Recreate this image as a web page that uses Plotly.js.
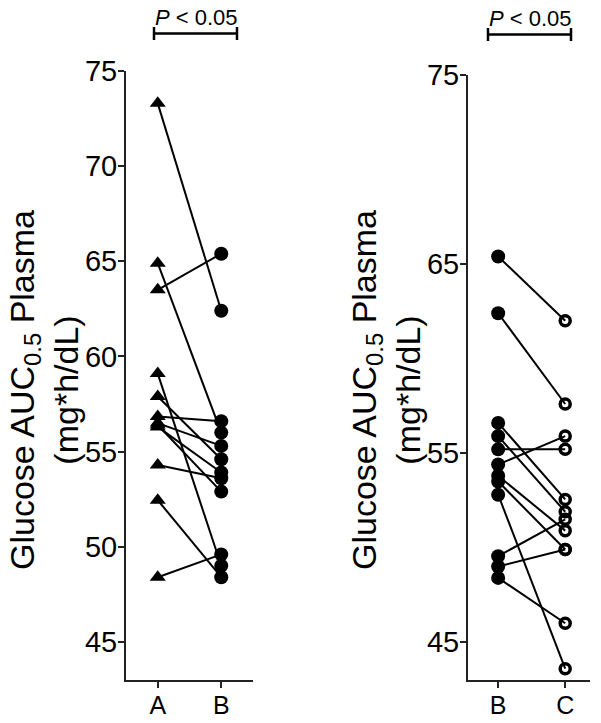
<!DOCTYPE html>
<html>
<head>
<meta charset="utf-8">
<script src="https://cdn.plot.ly/plotly-3.0.1.min.js"></script>
<style>
  body { margin: 0; background: #fff; }
  #chart { width: 601px; height: 723px; }
</style>
</head>
<body>
<div id="chart"></div>
<script>
'use strict';

// paired values, one entry per subject
var catsLeft = ['A', 'B'];
var catsRight = ['B', 'C'];

var leftA = [73.3, 64.9, 63.5, 59.1, 57.9, 56.85, 56.5, 56.4, 56.3, 54.3, 52.45, 48.4];
var leftB = [62.4, 56.0, 65.4, 49.0, 54.6, 56.6, 55.3, 52.9, 53.9, 53.6, 48.4, 49.6];

var rightB = [65.4, 62.4, 56.6, 55.9, 55.2, 54.4, 53.8, 53.5, 52.8, 49.55, 49.0, 48.4];
var rightC = [62.0, 57.6, 52.55, 51.9, 55.2, 55.9, 50.9, 49.9, 43.6, 51.5, 49.9, 46.0];

var ticksLeft = [45, 50, 55, 60, 65, 70, 75];
var ticksRight = [45, 55, 65, 75];

var FONT = 'Arial, "Liberation Sans", sans-serif';
var W = 601, H = 723;

// pixel -> paper helpers (margins are zero)
function px(x) { return x / W; }
function py(y) { return 1 - y / H; }

var traces = [];

//lignes reliant les deux mesures de chaque sujet
function addPairs(first, second, cats, xa, ya) {
  for (var i = 0; i < first.length; i++) {
    traces.push({
      x: cats, y: [first[i], second[i]],
      mode: 'lines', line: {color: '#000', width: 2},
      xaxis: xa, yaxis: ya, showlegend: false, hoverinfo: 'skip'
    });
  }
}
addPairs(leftA, leftB, catsLeft, 'x', 'y');
addPairs(rightB, rightC, catsRight, 'x2', 'y2');

function markers(cat, vals, xa, ya, symbol, size, lw) {
  return {
    x: vals.map(function () { return cat; }), y: vals,
    mode: 'markers', xaxis: xa, yaxis: ya,
    marker: {symbol: symbol, size: size, color: '#000', line: {color: '#000', width: lw}},
    showlegend: false, hoverinfo: 'skip'
  };
}
traces.push(markers('A', leftA, 'x', 'y', 'triangle-up', 14, 0));
traces.push(markers('B', leftB, 'x', 'y', 'circle', 14, 0));
traces.push(markers('B', rightB, 'x2', 'y2', 'circle', 14, 0));
traces.push(markers('C', rightC, 'x2', 'y2', 'circle-open', 10, 3.5));

var axisLine = {
  showline: true, linecolor: '#222', linewidth: 2,
  ticks: 'outside', ticklen: 6, tickwidth: 2, tickcolor: '#222',
  showgrid: false, zeroline: false, fixedrange: true
};

var layout = {
  width: W, height: H,
  margin: {l: 0, r: 0, t: 0, b: 0},
  paper_bgcolor: '#fff', plot_bgcolor: '#fff',
  font: {family: FONT, color: '#000'},
  showlegend: false,
  xaxis: Object.assign({}, axisLine, {
    domain: [px(126), px(253)], anchor: 'y', type: 'category',
    categoryarray: catsLeft, range: [-0.5, 1.5],
    tickfont: {size: 25, family: FONT}, ticklabelstandoff: -4
  }),
  yaxis: Object.assign({}, axisLine, {
    domain: [py(680), py(71)], anchor: 'x', range: [43, 75],
    tickvals: ticksLeft, tickfont: {size: 29, family: FONT}, ticklabelstandoff: -5
  }),
  xaxis2: Object.assign({}, axisLine, {
    domain: [px(468), px(590)], anchor: 'y2', type: 'category',
    categoryarray: catsRight, range: [-0.45, 1.37],
    tickfont: {size: 25, family: FONT}, ticklabelstandoff: -4
  }),
  yaxis2: Object.assign({}, axisLine, {
    domain: [py(680), py(75)], anchor: 'x2', range: [43, 75],
    tickvals: ticksRight, tickfont: {size: 29, family: FONT}, ticklabelstandoff: -5
  }),
  annotations: [
    {xref: 'paper', yref: 'paper', x: px(196), y: py(17), showarrow: false,
     xanchor: 'center', yanchor: 'middle', text: '<i>P</i> &lt; 0.05',
     font: {size: 22, family: FONT}},
    {xref: 'paper', yref: 'paper', x: px(530), y: py(18), showarrow: false,
     xanchor: 'center', yanchor: 'middle', text: '<i>P</i> &lt; 0.05',
     font: {size: 22, family: FONT}},
    {xref: 'paper', yref: 'paper', x: px(44), y: py(390), showarrow: false,
     xanchor: 'center', yanchor: 'middle', textangle: -90,
     text: 'Glucose AUC<sub>0.5</sub> Plasma<br>(mg*h/dL)',
     font: {size: 34, family: FONT}},
    {xref: 'paper', yref: 'paper', x: px(386), y: py(390), showarrow: false,
     xanchor: 'center', yanchor: 'middle', textangle: -90,
     text: 'Glucose AUC<sub>0.5</sub> Plasma<br>(mg*h/dL)',
     font: {size: 34, family: FONT}}
  ],
  shapes: []
};

//crochets de significativité
function bracket(x0, x1, y, cap) {
  var st = {xref: 'paper', yref: 'paper', type: 'line', line: {color: '#000', width: 2.5}};
  layout.shapes.push(Object.assign({}, st, {x0: px(x0), x1: px(x1), y0: py(y), y1: py(y)}));
  layout.shapes.push(Object.assign({}, st, {x0: px(x0), x1: px(x0), y0: py(y - cap), y1: py(y + cap)}));
  layout.shapes.push(Object.assign({}, st, {x0: px(x1), x1: px(x1), y0: py(y - cap), y1: py(y + cap)}));
}
bracket(154, 237, 33.5, 6.5);
bracket(488, 571, 34.5, 6.5);

Plotly.newPlot('chart', traces, layout, {displayModeBar: false, staticPlot: true});
</script>
</body>
</html>
